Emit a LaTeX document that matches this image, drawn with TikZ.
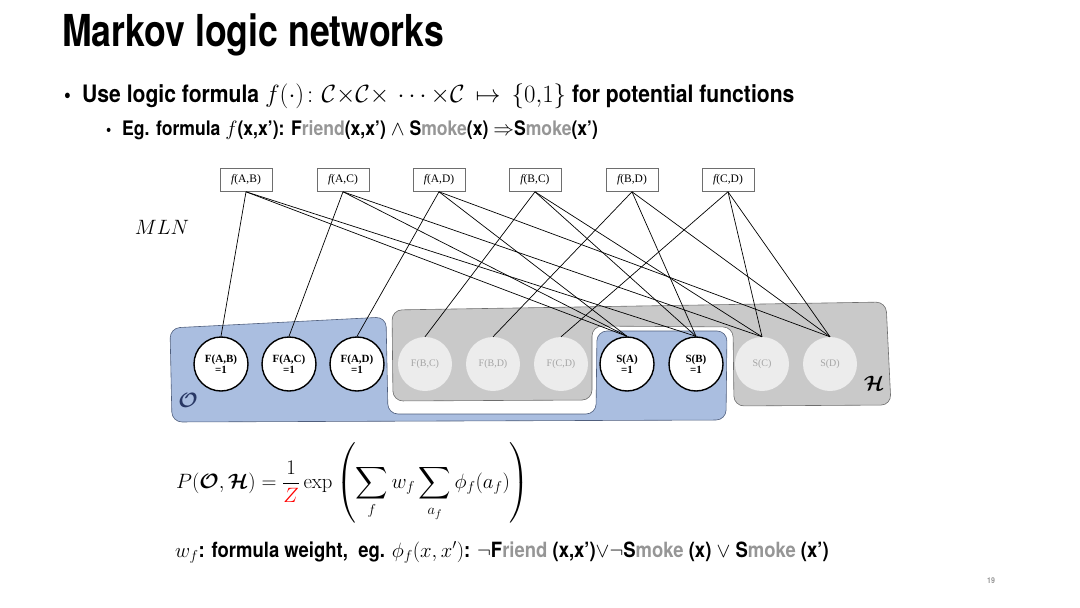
\documentclass[tikz,border=0pt]{standalone}
\usepackage{amsmath,amssymb,bm}
\usepackage[no-math]{fontspec}
\setmainfont{TeX Gyre Heros}[FakeStretch=0.88]
\newfontfamily\titlefont{TeX Gyre Heros}[FakeStretch=0.81]
\newfontfamily\serifnode{Liberation Serif}
\definecolor{blueO}{RGB}{170,190,224}
\definecolor{blueline}{RGB}{80,95,125}
\definecolor{grayH}{RGB}{201,201,201}
\definecolor{grayline}{RGB}{110,110,110}
\definecolor{ghost}{RGB}{236,236,236}
\definecolor{ghosttext}{RGB}{165,165,165}
\definecolor{txtgray}{RGB}{150,150,150}
\definecolor{navy}{RGB}{40,55,100}
\newcommand{\gr}[1]{{\color{txtgray}#1}}
\tikzset{
  obs/.style={circle, draw=black, line width=1.4pt, fill=white, minimum size=54pt, inner sep=0pt,
    font=\serifnode\bfseries\fontsize{11}{11.5}\selectfont, align=center},
  hid/.style={circle, fill=ghost, minimum size=54pt, inner sep=0pt, text=ghosttext,
    font=\serifnode\fontsize{10}{11}\selectfont, align=center},
  fbox/.style={draw=grayline, line width=0.6pt, fill=white, minimum width=52pt, minimum height=23pt,
    inner sep=0pt, font=\serifnode\fontsize{11.5}{12}\selectfont},
  edge/.style={draw=black, line width=0.7pt},
  txt/.style={anchor=base west, inner sep=0pt, font=\bfseries}
}
\begin{document}
\begin{tikzpicture}[x=1pt,y=-1pt]
\useasboundingbox (0,0) rectangle (1080,608);

% title and bullets
\node[txt, font=\titlefont\bfseries\fontsize{44}{50}\selectfont] (title) at (62,46) {Markov logic networks};
\node[txt, font=\bfseries\fontsize{22}{27}\selectfont] (b1) at (64,102) {\textbullet};
\node[txt, font=\bfseries\fontsize{24}{28}\selectfont] (l1) at (82,102)
  {Use logic formula $f(\cdot)\colon \mathcal{C}{\times}\mathcal{C}{\times}\,\cdots{\times}\mathcal{C}\,\mapsto\,\{0{,}1\}$ for potential functions};
\node[txt, font=\bfseries\fontsize{17}{22}\selectfont] (b2) at (106,135) {\textbullet};
\node[txt, font=\bfseries\fontsize{20}{23}\selectfont] (l2) at (122,135)
  {Eg. formula $f$(x,x’): F\gr{riend}(x,x’) $\wedge$ S\gr{moke}(x) $\Rightarrow$S\gr{moke}(x’)};

% MLN label
\node[font=\fontsize{22}{26}\selectfont] (mln) at (162,227) {$MLN$};

% regions
\draw[fill=blueO, draw=blueline, line width=0.6pt, rounded corners=10pt]
  (170,328) -- (386,317) -- (388,414) -- (596,414) -- (597,331) -- (727,331) -- (726,420) -- (172,422) -- cycle;
\draw[fill=grayH, draw=grayline, line width=0.6pt, rounded corners=10pt]
  (392,310) -- (886,302) -- (891,405) -- (734,406) -- (733,327) -- (592,326) -- (592,400) -- (393,401) -- cycle;
\node[text=navy, font=\fontsize{20}{24}\selectfont] (olab) at (188,400) {$\boldsymbol{\mathcal{O}}$};
\node[font=\fontsize{20}{24}\selectfont] (hlab) at (874,383) {$\boldsymbol{\mathcal{H}}$};

% formula boxes
\node[fbox] (fAB) at (246,180) {{\itshape f}(A,B)};
\node[fbox] (fAC) at (343,180) {{\itshape f}(A,C)};
\node[fbox] (fAD) at (439,180) {{\itshape f}(A,D)};
\node[fbox] (fBC) at (535,180) {{\itshape f}(B,C)};
\node[fbox] (fBD) at (632,180) {{\itshape f}(B,D)};
\node[fbox] (fCD) at (728,180) {{\itshape f}(C,D)};

% ground atoms
\node[obs] (FAB) at (221,364) {F(A,B)\\=1};
\node[obs] (FAC) at (289,364) {F(A,C)\\=1};
\node[obs] (FAD) at (357,364) {F(A,D)\\=1};
\node[hid] (FBC) at (425,364) {F(B,C)};
\node[hid] (FBD) at (493,364) {F(B,D)};
\node[hid] (FCD) at (561,364) {F(C,D)};
\node[obs] (SA) at (627,364) {S(A)\\=1};
\node[obs] (SB) at (696,364) {S(B)\\=1};
\node[hid] (SC) at (762,364) {S(C)};
\node[hid] (SD) at (830,364) {S(D)};

% connectors
\foreach \f/\a/\b/\c in {fAB/FAB/SA/SB, fAC/FAC/SA/SC, fAD/FAD/SA/SD, fBC/FBC/SB/SC, fBD/FBD/SB/SD, fCD/FCD/SC/SD}{
  \draw[edge] (\f.south) -- (\a.north);
  \draw[edge] (\f.south) -- (\b.north);
  \draw[edge] (\f.south) -- (\c.north);
}

% probability formula
\node[anchor=west, inner sep=0pt, font=\fontsize{22.5}{26}\selectfont] (prob) at (176,483)
  {$\displaystyle P(\boldsymbol{\mathcal{O}},\boldsymbol{\mathcal{H}}) = \frac{1}{\textcolor{red}{Z}}\exp\left(\sum_{f} w_f \sum_{a_f}\phi_f(a_f)\right)$};

% weight line
\node[txt, font=\bfseries\fontsize{21}{24}\selectfont] (wline) at (175,557)
  {$w_f$: formula weight,\ \ eg. $\phi_f(x,x')$: $\neg$F\gr{riend} (x,x’)$\vee\neg$S\gr{moke} (x) $\vee$ S\gr{moke} (x’)};

% page number
\node[text=txtgray, font=\bfseries\fontsize{8}{9}\selectfont] (pnum) at (991,581) {19};
\end{tikzpicture}
\end{document}
